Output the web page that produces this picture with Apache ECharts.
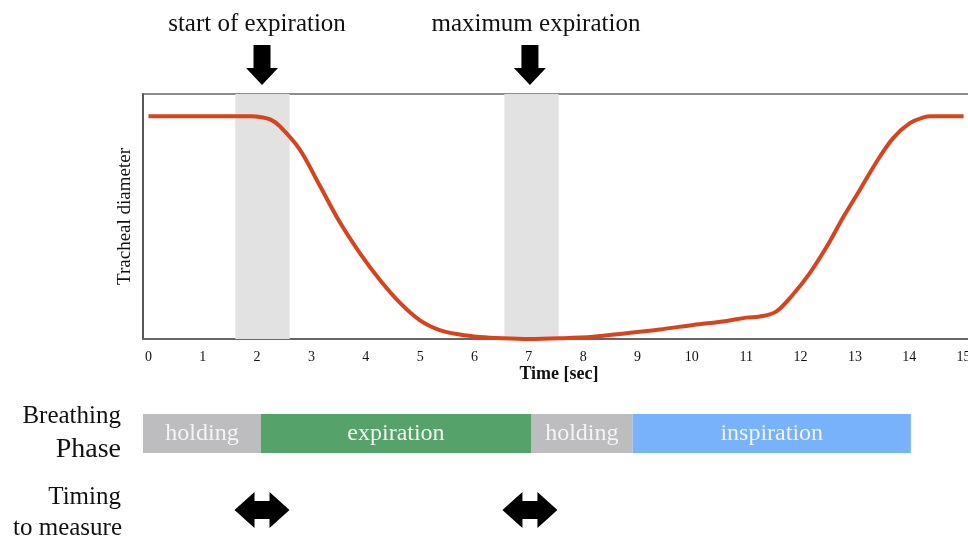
<!DOCTYPE html>
<html>
<head>
<meta charset="utf-8">
<script src="https://cdn.jsdelivr.net/npm/echarts@6/dist/echarts.min.js"></script>
<style>html,body{margin:0;padding:0;background:#fff;overflow:hidden;width:968px;height:536px}#c{width:984px;height:536px}</style>
</head>
<body>
<div id="c"></div>
<script>
// ---- data ----
const times = [0, 1, 1.9, 2.05, 2.25, 2.42, 2.78, 3.15, 3.52, 3.89, 4.26, 4.63, 4.99, 5.36, 5.73, 6.1, 6.52, 7.0, 7.57, 8.18, 8.8, 9.41, 10.02, 10.64, 11.0, 11.25, 11.55, 11.86, 12.17, 12.48, 12.79, 13.09, 13.4, 13.7, 14.01, 14.26, 14.4, 15.0];
const diameter = [1, 1, 1, 0.997, 0.985, 0.955, 0.853, 0.69, 0.525, 0.386, 0.265, 0.162, 0.085, 0.040, 0.020, 0.009, 0.003, 0.0, 0.003, 0.01, 0.026, 0.043, 0.063, 0.081, 0.096, 0.101, 0.123, 0.2, 0.296, 0.414, 0.549, 0.669, 0.796, 0.901, 0.969, 0.995, 1.0, 1.0];
const shadeStart = [1.6, 6.55];
const shadeEnd = [2.6, 7.55];
const tickLabels = [0, 1, 2, 3, 4, 5, 6, 7, 8, 9, 10, 11, 12, 13, 14, 15];
const phaseNames = ['holding', 'expiration', 'holding', 'inspiration'];
const phaseStart = [-0.1, 2.07, 7.04, 8.91];
const phaseEnd = [2.07, 7.04, 8.91, 14.03];
const arrowTimes = [2.09, 7.02];
const arrowLabels = ['start of expiration', 'maximum expiration'];

// ---- style ----
const SERIF = "'Liberation Serif','Times New Roman',serif";
const phaseColors = ['#bdbdc0', '#55a26a', '#bdbdc0', '#77b2fa'];
const X_MIN = -0.1, X_MAX = 15.21;

const chart = echarts.init(document.getElementById('c'), null, {renderer: 'canvas'});

const option = {
  animation: false,
  backgroundColor: '#fff',
  grid: [
    {left: 143, top: 94, width: 832, height: 245, show: true, borderColor: '#8c8c8c', borderWidth: 2, containLabel: false},
    {left: 143, top: 414, width: 832, height: 39, show: false, containLabel: false}
  ],
  xAxis: [
    {
      gridIndex: 0, type: 'value', min: X_MIN, max: X_MAX,
      axisLine: {show: true, onZero: false, lineStyle: {color: '#666', width: 2}},
      axisTick: {show: false},
      splitLine: {show: false},
      axisLabel: {customValues: tickLabels, color: '#111', fontFamily: SERIF, fontSize: 14, margin: 11},
      name: 'Time [sec]', nameLocation: 'middle', nameGap: 25,
      nameTextStyle: {fontFamily: SERIF, fontSize: 18, fontWeight: 'bold', color: '#111'}
    },
    {gridIndex: 1, type: 'value', min: X_MIN, max: X_MAX, show: false}
  ],
  yAxis: [
    {
      gridIndex: 0, type: 'value', min: 0, max: 1.1,
      axisLine: {show: true, onZero: false, lineStyle: {color: '#444', width: 1.5}},
      axisTick: {show: false}, axisLabel: {show: false}, splitLine: {show: false},
      name: 'Tracheal diameter', nameLocation: 'middle', nameGap: 8, nameRotate: 90,
      nameTextStyle: {fontFamily: SERIF, fontSize: 19, color: '#111'}
    },
    {gridIndex: 1, type: 'value', min: 0, max: 1, show: false}
  ],
  series: [
    {
      type: 'line', xAxisIndex: 0, yAxisIndex: 0, data: [], z: 1, silent: true,
      markArea: {
        silent: true,
        itemStyle: {color: '#e2e2e2'},
        data: shadeStart.map((s, i) => [{xAxis: s}, {xAxis: shadeEnd[i]}])
      }
    },
    {
      type: 'line', xAxisIndex: 0, yAxisIndex: 0, z: 5,
      data: times.map((t, i) => [t, diameter[i]]),
      smooth: 0.35, showSymbol: false, symbol: 'none',
      lineStyle: {color: '#d6441d', width: 4}
    },
    {
      type: 'custom', xAxisIndex: 1, yAxisIndex: 1,
      data: phaseStart.map((s, i) => [s, phaseEnd[i], i]),
      encode: {x: [0, 1]},
      renderItem: function (params, api) {
        const a = api.coord([api.value(0), 1]);
        const b = api.coord([api.value(1), 0]);
        const idx = api.value(2);
        return {
          type: 'rect',
          shape: {x: a[0], y: a[1], width: b[0] - a[0], height: b[1] - a[1]},
          style: {fill: phaseColors[idx]},
          textContent: {
            style: {text: phaseNames[idx], fill: '#f4f4f4', font: '24px ' + SERIF}
          },
          textConfig: {position: 'inside'}
        };
      }
    }
  ]
};
chart.setOption(option);

// annotations positioned from data via the axis scale
const g = [];
const labelOffsets = [-5, 6];
arrowTimes.forEach((t, i) => {
  const px = chart.convertToPixel({xAxisIndex: 0}, t);
  g.push({
    type: 'polygon', x: px, y: 45,
    shape: {points: [[-8.5, 0], [8.5, 0], [8.5, 23], [16, 23], [0, 40], [-16, 23], [-8.5, 23]]},
    style: {fill: '#000'}
  });
  g.push({
    type: 'text', x: px + labelOffsets[i], y: 24,
    style: {text: arrowLabels[i], font: '25px ' + SERIF, fill: '#111', align: 'center', verticalAlign: 'middle'}
  });
  g.push({
    type: 'polygon', x: px, y: 510,
    shape: {points: [[-27.5, 0], [-7.5, -18], [-7.5, -9], [7.5, -9], [7.5, -18], [27.5, 0], [7.5, 18], [7.5, 9], [-7.5, 9], [-7.5, 18]]},
    style: {fill: '#000'}
  });
});
const sideLabels = [
  ['Breathing', 416, 25, 121],
  ['Phase', 450, 28, 121],
  ['Timing', 497, 25, 121],
  ['to measure', 528, 25, 122]
];
sideLabels.forEach(l => {
  g.push({
    type: 'text', x: l[3], y: l[1],
    style: {text: l[0], font: l[2] + 'px ' + SERIF, fill: '#111', align: 'right', verticalAlign: 'middle'}
  });
});
chart.setOption({graphic: g});
</script>
</body>
</html>
